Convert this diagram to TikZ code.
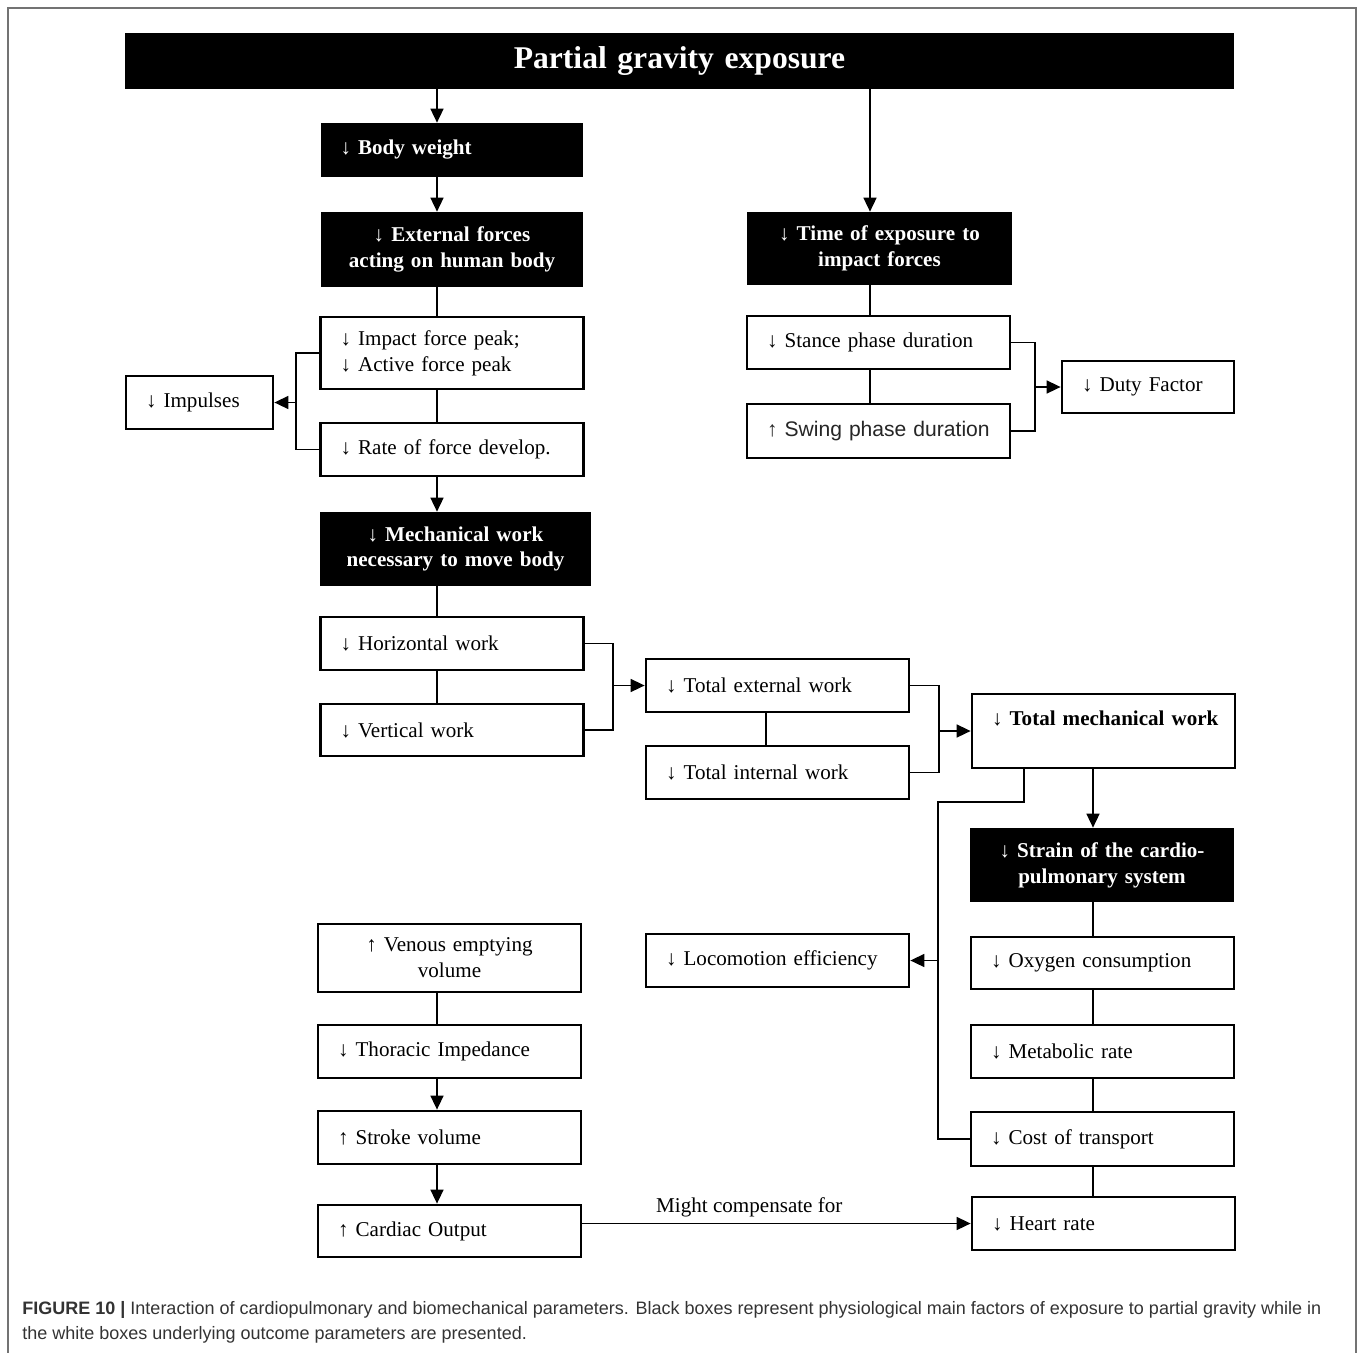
\documentclass[tikz,border=0pt]{standalone}
\usepackage{fontspec}
\setmainfont{Liberation Serif}
\newfontfamily\capfont{Liberation Sans}
\usetikzlibrary{arrows.meta}

\tikzset{
  wbox/.style={draw, rectangle, line width=1.6pt, fill=white, text width=4.46cm, inner xsep=0.4cm, inner ysep=0pt, align=left, font=\fontsize{12}{14.7}\selectfont},
  bbox/.style={rectangle, fill=black, text=white, text width=4.46cm, inner xsep=0.4cm, inner ysep=0pt, align=center, font=\bfseries\fontsize{12}{14.7}\selectfont},
  arr/.style={-{Triangle[length=0.28cm,width=0.26cm]}, line width=0.9pt},
  link/.style={line width=0.9pt},
}

\begin{document}
\begin{tikzpicture}[x=0.02cm, y=-0.02cm]
  \useasboundingbox (0,0) rectangle (1360,1353);
  \draw[black!55, line width=1pt] (8,1400) -- (8,8) -- (1356,8) -- (1356,1400);

  % spines and brackets
  \coordinate (lspine) at (437,0);
  \coordinate (rspine) at (870,0);
  \coordinate (cspine) at (766,0);
  \coordinate (hspine) at (1093,0);
  \coordinate (bkimp) at (296,0);
  \coordinate (bkduty) at (1035,0);
  \coordinate (bkwork) at (613,0);
  \coordinate (bktot) at (939,0);
  \coordinate (effx) at (1024,802);
  \coordinate (effbk) at (938,0);

  % black boxes
  \node[bbox, text width=21.38cm, minimum height=1.12cm, font=\bfseries\fontsize{18}{20}\selectfont] (gravity) at (679.5,61) {Partial gravity exposure};
  \node[bbox, align=left, minimum height=1.08cm] (bodyw) at (452,150) {↓ Body weight};
  \node[bbox, minimum height=1.5cm] (extforce) at (452,249.5) {↓ External forces\\acting on human body};
  \node[bbox, text width=4.5cm, minimum height=1.46cm] (timeexp) at (879.5,248.5) {↓ Time of exposure to\\impact forces};
  \node[bbox, text width=4.62cm, minimum height=1.48cm] (mechwork) at (455.5,549) {↓ Mechanical work\\necessary to move body};
  \node[bbox, text width=4.48cm, minimum height=1.48cm] (strain) at (1102,865) {↓ Strain of the cardio-\\pulmonary system};

  % white boxes
  \node[wbox, minimum height=1.44cm] (peaks) at (452,353) {↓ Impact force peak;\\↓ Active force peak};
  \node[wbox, text width=2.14cm, minimum height=1.06cm] (impulse) at (199.5,402.5) {↓ Impulses};
  \node[wbox, minimum height=1.06cm] (rfd) at (452,449.5) {↓ Rate of force develop.};
  \node[wbox, minimum height=1.06cm] (stance) at (878.5,342.5) {↓ Stance phase duration};
  \node[wbox, minimum height=1.08cm, font=\capfont\fontsize{12}{14.7}\selectfont, text=black!85] (swing) at (878.5,431) {↑ Swing phase duration};
  \node[wbox, text width=2.64cm, minimum height=1.04cm] (duty) at (1148,387) {↓ Duty Factor};
  \node[wbox, minimum height=1.06cm] (horiz) at (452,643.5) {↓ Horizontal work};
  \node[wbox, minimum height=1.04cm] (vert) at (452,730) {↓ Vertical work};
  \node[wbox, minimum height=1.06cm] (extwork) at (777.5,685.5) {↓ Total external work};
  \node[wbox, minimum height=1.06cm] (intwork) at (777.5,772.5) {↓ Total internal work};
  \node[wbox, minimum height=1.48cm] (totmech) at (1103.5,731) {\mbox{↓ \textbf{Total mechanical work}}\\\mbox{}};
  \node[wbox, minimum height=1.06cm] (loco) at (777.5,960.5) {↓ Locomotion efficiency};
  \node[wbox, minimum height=1.04cm] (oxygen) at (1102.5,963) {↓ Oxygen consumption};
  \node[wbox, minimum height=1.06cm] (metab) at (1102.5,1051.5) {↓ Metabolic rate};
  \node[wbox, minimum height=1.08cm] (cost) at (1102.5,1139) {↓ Cost of transport};
  \node[wbox, minimum height=1.06cm] (heart) at (1103.5,1223.5) {↓ Heart rate};
  \node[wbox, align=center, minimum height=1.36cm] (venous) at (449.5,958) {↑ Venous emptying\\volume};
  \node[wbox, minimum height=1.06cm] (thoracic) at (449.5,1051.5) {↓ Thoracic Impedance};
  \node[wbox, minimum height=1.06cm] (stroke) at (449.5,1137.5) {↑ Stroke volume};
  \node[wbox, minimum height=1.04cm] (cardiac) at (449.5,1231) {↑ Cardiac Output};

  % left column
  \draw[arr] (gravity.south -| lspine) -- (bodyw.north -| lspine);
  \draw[arr] (bodyw.south -| lspine) -- (extforce.north -| lspine);
  \draw[link] (extforce.south -| lspine) -- (peaks.north -| lspine);
  \draw[link] (peaks.south -| lspine) -- (rfd.north -| lspine);
  \draw[arr] (rfd.south -| lspine) -- (mechwork.north -| lspine);
  \draw[link] (mechwork.south -| lspine) -- (horiz.north -| lspine);
  \draw[link] (horiz.south -| lspine) -- (vert.north -| lspine);
  \draw[link] (peaks.west) -- (peaks.west -| bkimp) -- (rfd.west -| bkimp) -- (rfd.west);
  \draw[arr] (impulse.east -| bkimp) -- (impulse.east);

  % time of exposure
  \draw[arr] (gravity.south -| rspine) -- (timeexp.north -| rspine);
  \draw[link] (timeexp.south -| rspine) -- (stance.north -| rspine);
  \draw[link] (stance.south -| rspine) -- (swing.north -| rspine);
  \draw[link] (stance.east) -- (stance.east -| bkduty) -- (swing.east -| bkduty) -- (swing.east);
  \draw[arr] (duty.west -| bkduty) -- (duty.west);

  % work
  \draw[link] (horiz.east) -- (horiz.east -| bkwork) -- (vert.east -| bkwork) -- (vert.east);
  \draw[arr] (extwork.west -| bkwork) -- (extwork.west);
  \draw[link] (extwork.south -| cspine) -- (intwork.north -| cspine);
  \draw[link] (extwork.east) -- (extwork.east -| bktot) -- (intwork.east -| bktot) -- (intwork.east);
  \draw[arr] (totmech.west -| bktot) -- (totmech.west);

  % cardiopulmonary column
  \draw[arr] (totmech.south -| hspine) -- (strain.north -| hspine);
  \draw[link] (strain.south -| hspine) -- (oxygen.north -| hspine);
  \draw[link] (oxygen.south -| hspine) -- (metab.north -| hspine);
  \draw[link] (metab.south -| hspine) -- (cost.north -| hspine);
  \draw[link] (cost.south -| hspine) -- (heart.north -| hspine);
  \draw[link] (totmech.south -| effx) -- (effx) -- (effx -| effbk) -- (cost.west -| effbk) -- (cost.west);
  \draw[arr] (loco.east -| effbk) -- (loco.east);

  % venous return
  \draw[link] (venous.south -| lspine) -- (thoracic.north -| lspine);
  \draw[arr] (thoracic.south -| lspine) -- (stroke.north -| lspine);
  \draw[arr] (stroke.south -| lspine) -- (cardiac.north -| lspine);
  \draw[arr] (cardiac.east |- heart.west) -- (heart.west) node[pos=0.43, above, font=\fontsize{12}{14.7}\selectfont] (compensate) {Might compensate for};

  \node[anchor=north west, align=left, inner sep=0pt, text=black!80, font=\capfont\fontsize{10.25}{14.2}\selectfont] (caption) at (22,1301)
    {\textbf{FIGURE 10 |} Interaction of cardiopulmonary and biomechanical parameters. Black boxes represent physiological main factors of exposure to partial gravity while in\\the white boxes underlying outcome parameters are presented.};
\end{tikzpicture}
\end{document}
